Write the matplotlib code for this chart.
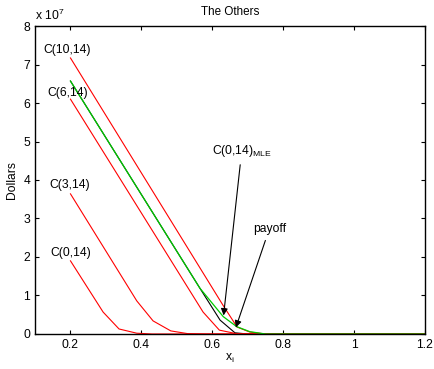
import matplotlib
matplotlib.use('Agg')
import matplotlib.pyplot as plt

# values (dollars, in units of 1e7)
x_c0 = [0.2, 0.292, 0.337, 0.387, 0.43, 1.2]
c0 = [1.9, 0.57, 0.13, 0.02, 0.0, 0.0]

x_c3 = [0.2, 0.387, 0.433, 0.483, 0.53, 0.58, 1.2]
c3 = [3.64, 0.86, 0.34, 0.08, 0.01, 0.0, 0.0]

x_c6 = [0.2, 0.574, 0.62, 0.667, 0.71, 1.2]
c6 = [6.10, 0.57, 0.10, 0.01, 0.0, 0.0]

x_c10 = [0.2, 0.63, 0.67, 0.706, 0.75, 1.2]
c10 = [7.17, 0.75, 0.18, 0.05, 0.0, 0.0]

x_mle = [0.2, 0.565, 0.631, 0.669, 0.706, 0.75, 1.2]
mle = [6.57, 1.19, 0.45, 0.19, 0.06, 0.0, 0.0]

x_pay = [0.2, 0.565, 0.622, 0.664, 0.7, 1.2]
pay = [6.57, 1.19, 0.36, 0.03, 0.0, 0.0]

labels = ['C(0,14)', 'C(3,14)', 'C(6,14)', 'C(10,14)']
label_pos = [(0.2, 2.1), (0.197, 3.87), (0.193, 6.26), (0.19, 7.38)]

plt.rcParams['font.family'] = ['Liberation Sans', 'DejaVu Sans']
plt.rcParams['font.size'] = 8.7

fig = plt.figure(figsize=(4.35, 3.69), dpi=100)
ax = fig.add_axes([0.0805, 0.0949, 0.8965, 0.8346])

ax.plot(x_pay, pay, color='black', lw=0.8)
for xs, ys in [(x_c0, c0), (x_c3, c3), (x_c6, c6), (x_c10, c10)]:
    ax.plot(xs, ys, color='red', lw=0.8)
ax.plot(x_mle, mle, color='#00cc00', lw=0.9)

for lab, (lx, ly) in zip(labels, label_pos):
    ax.text(lx, ly, lab, ha='center', va='center')

ax.annotate('C(0,14)$_{\\mathregular{MLE}}$', xy=(0.631, 0.41), xytext=(0.683, 4.54),
            ha='center', va='bottom',
            arrowprops=dict(arrowstyle='-|>', color='black', lw=0.8, mutation_scale=10))
ax.annotate('payoff', xy=(0.664, 0.1), xytext=(0.714, 2.57),
            ha='left', va='bottom',
            arrowprops=dict(arrowstyle='-|>', color='black', lw=0.8, mutation_scale=10))

ax.set_xlim(0.1, 1.2)
ax.set_ylim(0, 8)
ax.set_xticks([0.2, 0.4, 0.6, 0.8, 1, 1.2])
ax.set_xticklabels(['0.2', '0.4', '0.6', '0.8', '1', '1.2'])
ax.set_yticks(range(9))
ax.tick_params(direction='in', top=True, right=True, length=3, labelsize=8.7)
for s in ax.spines.values():
    s.set_linewidth(1.0)

ax.text(0, 1.01, 'x 10$^{\\mathregular{7}}$', transform=ax.transAxes, va='bottom')
ax.set_title('The Others', fontsize=8.4, pad=8)
ax.set_xlabel('x$_{\\mathregular{i}}$', labelpad=1)
ax.set_ylabel('Dollars', labelpad=4)

fig.savefig('out.png', dpi=100)
